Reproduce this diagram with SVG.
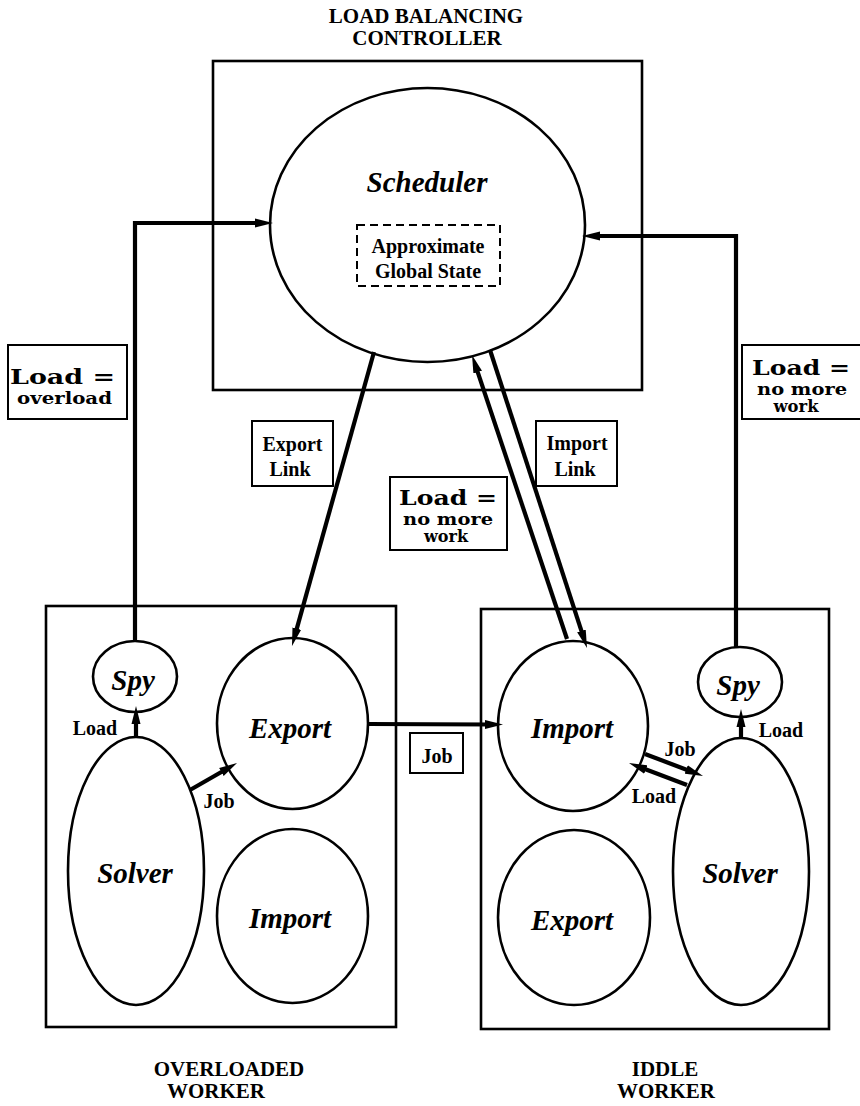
<svg xmlns="http://www.w3.org/2000/svg" width="860" height="1106" viewBox="0 0 860 1106">
  <style>
    .frame { fill: none; stroke: #000; stroke-width: 2.6; }
    .node { fill: none; stroke: #000; stroke-width: 2.6; }
    .tag { fill: #fff; stroke: #000; stroke-width: 2; }
    .dash { fill: none; stroke: #000; stroke-width: 2; stroke-dasharray: 8 5; }
    .wire { fill: none; stroke: #000; stroke-width: 4.2; marker-end: url(#head); }
    .plain { fill: none; stroke: #000; stroke-width: 4.2; }
    .title { font-family: "Liberation Serif", "Times New Roman", serif; font-weight: bold; font-size: 21px; text-anchor: middle; fill: #000; }
    .name { font-family: "Liberation Serif", "Times New Roman", serif; font-weight: bold; font-style: italic; font-size: 29px; text-anchor: middle; fill: #000; }
    .lbl { font-family: "Liberation Serif", "Times New Roman", serif; font-weight: bold; font-size: 20px; text-anchor: middle; fill: #000; }
    .big { font-family: "DejaVu Serif", "Liberation Serif", serif; font-weight: bold; font-size: 20px; text-anchor: middle; fill: #000; }
    .small { font-family: "DejaVu Serif", "Liberation Serif", serif; font-weight: bold; font-size: 16px; text-anchor: middle; fill: #000; }
  </style>
  <defs>
    <marker id="head" markerUnits="userSpaceOnUse" markerWidth="18" markerHeight="10" refX="6" refY="5" orient="auto">
      <path d="M0,0.5 L18,5 L0,9.5 z" fill="#000"/>
    </marker>
  </defs>

  <rect width="860" height="1106" fill="#fff"/>

  <!-- controller -->
  <g id="controller">
    <text class="title" x="426" y="23">LOAD BALANCING</text>
    <text class="title" x="427" y="45">CONTROLLER</text>
    <rect class="frame" x="213" y="61" width="429" height="329"/>
  </g>
  <g id="scheduler">
    <ellipse class="node" cx="427.5" cy="225" rx="157.5" ry="137"/>
    <text class="name" x="427" y="192">Scheduler</text>
  </g>
  <g id="global-state">
    <rect class="dash" x="357" y="225" width="143" height="61"/>
    <text class="lbl" x="428" y="253">Approximate</text>
    <text class="lbl" x="428" y="278">Global State</text>
  </g>

  <!-- overloaded worker -->
  <g id="overloaded-worker">
    <rect class="frame" x="46" y="606" width="350" height="421"/>
    <text class="title" x="229" y="1076">OVERLOADED</text>
    <text class="title" x="216" y="1098">WORKER</text>
  </g>
  <g id="ow-spy">
    <ellipse class="node" cx="135" cy="676.5" rx="42" ry="35.5"/>
    <text class="name" x="133" y="690">Spy</text>
  </g>
  <g id="ow-export">
    <ellipse class="node" cx="292.5" cy="723.5" rx="75.5" ry="85.5"/>
    <text class="name" x="290" y="738">Export</text>
  </g>
  <g id="ow-solver">
    <ellipse class="node" cx="136" cy="871" rx="68" ry="134"/>
    <text class="name" x="135" y="883">Solver</text>
  </g>
  <g id="ow-import">
    <ellipse class="node" cx="292.5" cy="916" rx="75.5" ry="87"/>
    <text class="name" x="290" y="928">Import</text>
  </g>

  <!-- idle worker -->
  <g id="idle-worker">
    <rect class="frame" x="481" y="609" width="348" height="420"/>
    <text class="title" x="665" y="1076">IDDLE</text>
    <text class="title" x="666" y="1098">WORKER</text>
  </g>
  <g id="iw-import">
    <ellipse class="node" cx="573" cy="726" rx="75" ry="85"/>
    <text class="name" x="572" y="738">Import</text>
  </g>
  <g id="iw-spy">
    <ellipse class="node" cx="740" cy="682" rx="42" ry="35"/>
    <text class="name" x="738" y="695">Spy</text>
  </g>
  <g id="iw-solver">
    <ellipse class="node" cx="741" cy="871.5" rx="68" ry="133.5"/>
    <text class="name" x="740" y="883">Solver</text>
  </g>
  <g id="iw-export">
    <ellipse class="node" cx="574" cy="917.5" rx="76" ry="87.5"/>
    <text class="name" x="572" y="930">Export</text>
  </g>

  <!-- connectors -->
  <g id="connectors">
    <!-- spy reports to the scheduler -->
    <path class="wire" d="M135,641 V223 H261"/>
    <path class="wire" d="M736,647 V236 H594"/>
    <!-- export link -->
    <path class="wire" d="M374,352 L295.2,634.4"/>
    <!-- idle import: load report up, import link down -->
    <path class="wire" d="M567,639 L475.8,366.4"/>
    <path class="wire" d="M490,350 L583.3,636.6"/>
    <!-- job transfer between workers -->
    <path class="wire" d="M368,724 L491,724.5"/>
    <!-- inside the overloaded worker -->
    <path class="wire" d="M190,790 L226.6,769"/>
    <path class="wire" d="M136,737 L136,718"/>
    <!-- inside the idle worker -->
    <path class="wire" d="M741,738 L741,721"/>
    <path class="wire" d="M645,754 L691.8,771.7"/>
    <path class="wire" d="M687,785 L640.2,767.3"/>
  </g>

  <!-- connector labels -->
  <g id="label-overload">
    <rect class="tag" x="8" y="345" width="119" height="74"/>
    <text class="big" x="62.5" y="384" font-size="25" textLength="105" lengthAdjust="spacingAndGlyphs">Load =</text>
    <text class="small" x="64.5" y="404" font-size="18" textLength="95" lengthAdjust="spacingAndGlyphs">overload</text>
  </g>
  <g id="label-nomore-right">
    <rect class="tag" x="742" y="345" width="130" height="74"/>
    <text class="big" x="801" y="375" textLength="98" lengthAdjust="spacingAndGlyphs">Load =</text>
    <text class="small" x="802" y="395" textLength="90" lengthAdjust="spacingAndGlyphs">no more</text>
    <text class="small" x="796" y="412" textLength="45" lengthAdjust="spacingAndGlyphs">work</text>
  </g>
  <g id="label-export-link">
    <rect class="tag" x="252" y="421" width="81" height="65"/>
    <text class="lbl" x="292.5" y="451">Export</text>
    <text class="lbl" x="290" y="476">Link</text>
  </g>
  <g id="label-import-link">
    <rect class="tag" x="536" y="421" width="81" height="65"/>
    <text class="lbl" x="577" y="450">Import</text>
    <text class="lbl" x="575" y="476">Link</text>
  </g>
  <g id="label-nomore-mid">
    <rect class="tag" x="390" y="477" width="117" height="73"/>
    <text class="big" x="448" y="505" textLength="98" lengthAdjust="spacingAndGlyphs">Load =</text>
    <text class="small" x="448" y="525" textLength="90" lengthAdjust="spacingAndGlyphs">no more</text>
    <text class="small" x="446" y="542" textLength="44" lengthAdjust="spacingAndGlyphs">work</text>
  </g>
  <g id="label-job-mid">
    <rect class="tag" x="410" y="733" width="53" height="40"/>
    <text class="lbl" x="437" y="763">Job</text>
  </g>
  <g id="label-small">
    <text class="lbl" x="95" y="735">Load</text>
    <text class="lbl" x="219" y="808">Job</text>
    <text class="lbl" x="781" y="737">Load</text>
    <text class="lbl" x="680" y="756">Job</text>
    <text class="lbl" x="654" y="803">Load</text>
  </g>
</svg>
